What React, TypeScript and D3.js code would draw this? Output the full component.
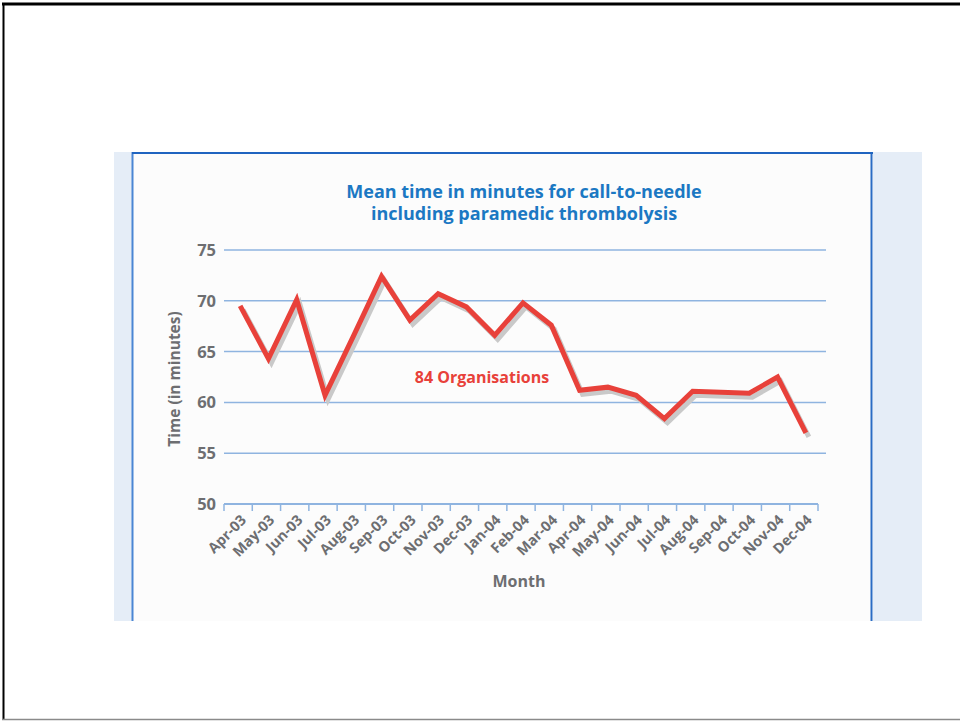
import React from "react";
import * as d3 from "d3";

const months = [
  "Apr-03", "May-03", "Jun-03", "Jul-03", "Aug-03", "Sep-03", "Oct-03",
  "Nov-03", "Dec-03", "Jan-04", "Feb-04", "Mar-04", "Apr-04", "May-04",
  "Jun-04", "Jul-04", "Aug-04", "Sep-04", "Oct-04", "Nov-04", "Dec-04",
];
const meanMinutes = [
  69.5, 64.3, 70.1, 60.7, 66.5, 72.4, 68.1, 70.7, 69.4, 66.6, 69.8,
  67.6, 61.2, 61.5, 60.7, 58.4, 61.1, 61.0, 60.9, 62.5, 57.0,
];
const yTicks = [50, 55, 60, 65, 70, 75];
const titleLines = [
  "Mean time in minutes for call-to-needle",
  "including paramedic thrombolysis",
];
const seriesLabel = "84 Organisations";
const xTitle = "Month";
const yTitle = "Time (in minutes)";

const W = 960;
const H = 721;
const FONT = "'Open Sans', 'DejaVu Sans', sans-serif";
const GREY = "#6d6e71";
const RED = "#e8413a";
const BLUE_GRID = "#8fb4e0";

export default function App() {
  const x = d3.scaleBand<string>().domain(months).range([224, 818]).padding(0);
  const y = d3.scaleLinear().domain([50, 75]).range([504, 250]);
  const data = months.map((m, i) => ({ m, v: meanMinutes[i] }));
  const line = d3
    .line<{ m: string; v: number }>()
    .x((d) => (x(d.m) as number) + x.bandwidth() / 2 + 2)
    .y((d) => y(d.v));
  const path = line(data) || "";
  const boundaries = months.map((m) => x(m) as number).concat([x.range()[1]]);

  return (
    <div style={{ position: "absolute", left: 0, top: 0 }}>
      <svg width={W} height={H} style={{ display: "block" }}>
        <rect x={0} y={0} width={W} height={H} fill="#ffffff" />
        {/* outer frame */}
        <line x1={2} x2={W} y1={4} y2={4} stroke="#000" strokeWidth={3} />
        <line x1={3.5} x2={3.5} y1={3} y2={720} stroke="#000" strokeWidth={2} />
        <line x1={2} x2={W} y1={719.5} y2={719.5} stroke="#8a8a8a" strokeWidth={1.5} />

        {/* panel */}
        <rect x={114} y={152} width={808} height={469} fill="#e5edf7" />
        <rect x={132} y={152} width={741} height={469} fill="#fcfcfc" />
        <line x1={132.5} x2={132.5} y1={152} y2={621} stroke="#4a86d4" strokeWidth={2} />
        <line x1={871.5} x2={871.5} y1={152} y2={621} stroke="#2a6cc4" strokeWidth={2} />
        <line x1={132} x2={873} y1={153} y2={153} stroke="#1f64c0" strokeWidth={2} />

        {/* title */}
        {titleLines.map((t, i) => (
          <text
            key={t}
            x={524}
            y={198 + i * 22}
            textAnchor="middle"
            fontFamily={FONT}
            fontWeight={700}
            fontSize={18}
            fill="#1b78c3"
          >
            {t}
          </text>
        ))}

        {/* grid lines */}
        {yTicks.filter((t) => t > 50).map((t) => (
          <line
            key={t}
            x1={224}
            x2={826}
            y1={y(t)}
            y2={y(t)}
            stroke={BLUE_GRID}
            strokeWidth={1.5}
          />
        ))}
        {/* x axis */}
        <line x1={224} x2={818} y1={y(50)} y2={y(50)} stroke={BLUE_GRID} strokeWidth={2} />
        {boundaries.map((b, i) => (
          <line key={i} x1={b} x2={b} y1={y(50)} y2={y(50) + 7} stroke={BLUE_GRID} strokeWidth={1.5} />
        ))}

        {/* y tick labels */}
        {yTicks.map((t) => (
          <text
            key={t}
            x={216}
            y={y(t) + 6}
            textAnchor="end"
            fontFamily={FONT}
            fontWeight={700}
            fontSize={16.5}
            fill={GREY}
          >
            {t}
          </text>
        ))}

        {/* x tick labels */}
        {months.map((m) => {
          const cx = (x(m) as number) + x.bandwidth() / 2 + 9;
          const cy = y(50) + 17;
          return (
            <text
              key={m}
              transform={`translate(${cx},${cy}) rotate(-45)`}
              textAnchor="end"
              fontFamily={FONT}
              fontWeight={700}
              fontSize={14.5}
              fill={GREY}
            >
              {m}
            </text>
          );
        })}

        {/* axis titles */}
        <text
          x={519}
          y={587}
          textAnchor="middle"
          fontFamily={FONT}
          fontWeight={700}
          fontSize={16}
          fill={GREY}
        >
          {xTitle}
        </text>
        <text
          transform={`translate(180,379) rotate(-90)`}
          textAnchor="middle"
          fontFamily={FONT}
          fontWeight={700}
          fontSize={15.5}
          fill={GREY}
        >
          {yTitle}
        </text>

        {/* series shadow and line */}
        <path
          d={path}
          transform="translate(3,4)"
          fill="none"
          stroke="#c9c9c9"
          strokeWidth={5}
          strokeLinejoin="miter"
        />
        <path d={path} fill="none" stroke={RED} strokeWidth={5} strokeLinejoin="miter" />

        <text
          x={482}
          y={383}
          textAnchor="middle"
          fontFamily={FONT}
          fontWeight={700}
          fontSize={16}
          fill={RED}
        >
          {seriesLabel}
        </text>
      </svg>
    </div>
  );
}
